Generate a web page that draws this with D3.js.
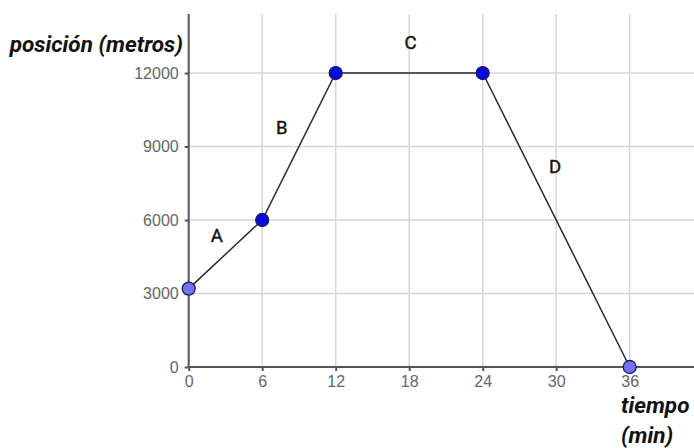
<!DOCTYPE html>
<html>
<head>
<meta charset="utf-8">
<script src="https://cdn.jsdelivr.net/npm/d3@7"></script>
<style>
  body { margin: 0; background: #fff; }
  svg { display: block; font-family: Roboto, "Noto Sans", sans-serif; }
  .grid line { stroke: #d6d6d6; stroke-width: 1.5; }
  .axis path, .axis line { stroke: #555; stroke-width: 2; }
  .axis text { fill: #666; font-size: 16px; }
  .title { font-weight: bold; font-style: italic; font-size: 22.5px; fill: #111; }
  .seg { font-size: 18.5px; fill: #111; stroke: #111; stroke-width: 0.4; }
</style>
</head>
<body>
<div id="chart"></div>
<script>
// tiempo (min) y posición (metros) de cada punto
var tiempo = [0, 6, 12, 24, 36];
var posicion = [3200, 6000, 12000, 12000, 0];
var puntoTipo = ["libre", "fijo", "fijo", "fijo", "libre"];

var xTicks = [0, 6, 12, 18, 24, 30, 36];
var yTicks = [0, 3000, 6000, 9000, 12000];

// etiquetas de los tramos, en coordenadas de los datos
var tramos = ["A", "B", "C", "D"];
var tramoX = [2.3, 7.6, 18.1, 29.9];
var tramoY = [5350, 9770, 13240, 8160];

var width = 694, height = 448;
var margin = {top: 14, right: 0, bottom: 81, left: 188.7};

var svg = d3.select("#chart").append("svg")
    .attr("width", width)
    .attr("height", height);

var x = d3.scaleLinear()
    .domain([0, 41.25])
    .range([margin.left, width - margin.right]);

var y = d3.scaleLinear()
    .domain([0, 14410])
    .range([height - margin.bottom, margin.top]);

// grid
var grid = svg.append("g").attr("class", "grid");
grid.selectAll(".gx").data(xTicks.filter(function (d) { return d > 0; }))
    .enter().append("line")
    .attr("x1", function (d) { return x(d); })
    .attr("x2", function (d) { return x(d); })
    .attr("y1", y(0))
    .attr("y2", margin.top);
grid.selectAll(".gy").data(yTicks.filter(function (d) { return d > 0; }))
    .enter().append("line")
    .attr("x1", x(0))
    .attr("x2", width)
    .attr("y1", function (d) { return y(d); })
    .attr("y2", function (d) { return y(d); });

// axes
svg.append("g")
    .attr("class", "axis")
    .attr("transform", "translate(0," + y(0) + ")")
    .call(d3.axisBottom(x).tickValues(xTicks).tickSize(4).tickSizeOuter(0).tickPadding(5))
    .call(function (g) { g.select(".domain").attr("d", "M" + x(0) + ",0H" + width); });

svg.append("g")
    .attr("class", "axis")
    .attr("transform", "translate(" + x(0) + ",0)")
    .call(d3.axisLeft(y).tickValues(yTicks).tickSize(4).tickSizeOuter(0).tickPadding(6).tickFormat(d3.format("d")))
    .call(function (g) { g.select(".domain").attr("d", "M0," + y(0) + "V" + margin.top); });

// axis titles
svg.append("text")
    .attr("class", "title")
    .attr("x", 183)
    .attr("y", 52)
    .attr("text-anchor", "end")
    .text("posición (metros)");

svg.append("text")
    .attr("class", "title")
    .attr("x", 621)
    .attr("y", 413)
    .text("tiempo");

svg.append("text")
    .attr("class", "title")
    .attr("x", 621)
    .attr("y", 443)
    .text("(min)");

// recorrido
var data = tiempo.map(function (t, i) { return {t: t, p: posicion[i], tipo: puntoTipo[i]}; });

var line = d3.line()
    .x(function (d) { return x(d.t); })
    .y(function (d) { return y(d.p); });

svg.append("path")
    .datum(data)
    .attr("d", line)
    .attr("fill", "none")
    .attr("stroke", "#2a2a2a")
    .attr("stroke-width", 1.5);

svg.selectAll(".punto").data(data)
    .enter().append("circle")
    .attr("class", "punto")
    .attr("cx", function (d) { return x(d.t); })
    .attr("cy", function (d) { return y(d.p); })
    .attr("r", 6.5)
    .attr("fill", function (d) { return d.tipo == "fijo" ? "#0a0ae0" : "#7373f2"; })
    .attr("stroke", "#1c1c5c")
    .attr("stroke-width", 1.3);

// etiquetas de tramos
svg.selectAll(".seg").data(tramos)
    .enter().append("text")
    .attr("class", "seg")
    .attr("x", function (d, i) { return x(tramoX[i]); })
    .attr("y", function (d, i) { return y(tramoY[i]); })
    .attr("text-anchor", "middle")
    .attr("dominant-baseline", "central")
    .text(function (d) { return d; });
</script>
</body>
</html>
